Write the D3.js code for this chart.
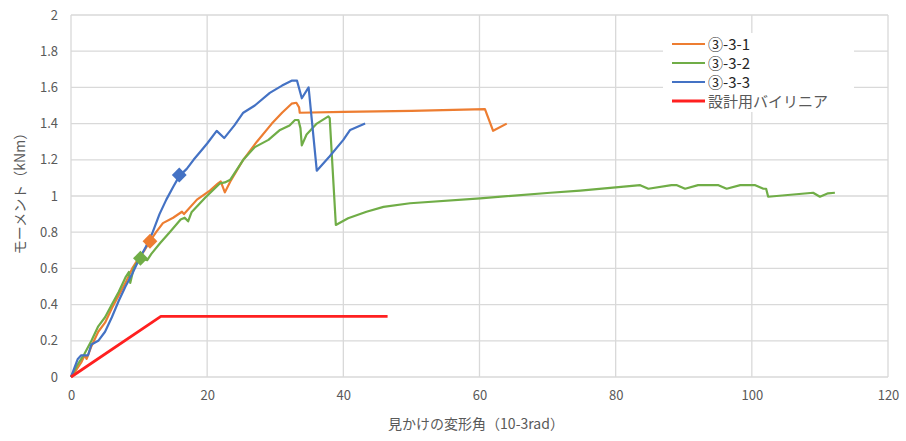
<!DOCTYPE html>
<html>
<head>
<meta charset="utf-8">
<script src="https://cdn.jsdelivr.net/npm/d3@7"></script>
<style>
  html, body { margin: 0; padding: 0; background: #fff; }
  svg { display: block; font-family: "Noto Sans CJK JP", "Noto Sans", sans-serif; }
</style>
</head>
<body>
<svg id="chart" width="906" height="441"></svg>
<script>
// Moment vs. apparent deformation angle for specimens ③-3-1 .. ③-3-3
const xTicks = [0, 20, 40, 60, 80, 100, 120];
const yTicks = [0, 0.2, 0.4, 0.6, 0.8, 1, 1.2, 1.4, 1.6, 1.8, 2];

const seriesNames = ["③-3-1", "③-3-2", "③-3-3", "設計用バイリニア"];

const s331 = [
  [0, 0], [0.8, 0.04], [1.5, 0.08], [2, 0.12], [2.3, 0.1], [3, 0.17], [4, 0.25],
  [5, 0.3], [6, 0.38], [7, 0.45], [8, 0.52], [9, 0.6], [10, 0.66], [10.8, 0.7],
  [11.6, 0.75], [12.5, 0.8], [13.5, 0.85], [15, 0.88], [16.3, 0.913], [16.6, 0.9],
  [18.5, 0.98], [20.4, 1.03], [21.6, 1.07], [22, 1.08], [22.6, 1.02], [23.4, 1.08],
  [25.3, 1.2], [27.3, 1.3], [29.5, 1.4], [31, 1.46], [32.4, 1.51], [33.1, 1.515],
  [33.5, 1.49], [33.6, 1.46], [40, 1.465], [50, 1.47], [60.8, 1.48], [62, 1.36], [64, 1.4]
];

const s332 = [
  [0, 0], [1, 0.07], [2, 0.13], [3, 0.2], [4, 0.28], [5, 0.33], [6, 0.4], [7, 0.47],
  [8, 0.55], [8.5, 0.58], [8.7, 0.52], [9.2, 0.6], [10.1, 0.656], [11.2, 0.646],
  [11.8, 0.68], [13.1, 0.74], [14.5, 0.8], [16.1, 0.87], [16.7, 0.88], [17.2, 0.86],
  [17.7, 0.91], [19.7, 0.99], [21.9, 1.07], [22.6, 1.075], [23.4, 1.09], [25.3, 1.2],
  [27, 1.27], [29, 1.31], [30.7, 1.365], [32.1, 1.39], [32.9, 1.42], [33.4, 1.42],
  [33.7, 1.375], [33.9, 1.28], [34.6, 1.34], [36.1, 1.4], [37.8, 1.44], [38, 1.43],
  [38.9, 0.84], [40.7, 0.877], [43.4, 0.913], [45.9, 0.94], [49.8, 0.96], [60.1, 0.987],
  [70.4, 1.018], [74.8, 1.03], [83.6, 1.06], [84.8, 1.04], [88.2, 1.06], [89, 1.06],
  [90.2, 1.04], [92.1, 1.06], [95.1, 1.06], [96.3, 1.04], [98.3, 1.06], [100.5, 1.06],
  [101.7, 1.04], [102.1, 1.04], [102.4, 0.996], [109, 1.018], [110, 0.996],
  [111.2, 1.015], [112.2, 1.018]
];

const s333 = [
  [0, 0], [0.5, 0.05], [1, 0.1], [1.5, 0.12], [2.5, 0.12], [3, 0.18], [4, 0.2],
  [5, 0.25], [6, 0.33], [7, 0.42], [8, 0.5], [9, 0.57], [10, 0.65], [11, 0.72],
  [12, 0.8], [13, 0.9], [14, 0.98], [15, 1.05], [15.9, 1.11], [17, 1.15], [18, 1.2],
  [18.9, 1.24], [20, 1.29], [21.4, 1.36], [22.5, 1.32], [24, 1.39], [25.3, 1.46],
  [27, 1.5], [29.2, 1.57], [31, 1.61], [32.4, 1.637], [33.2, 1.637], [33.9, 1.54],
  [34.9, 1.6], [36.1, 1.14], [38, 1.22], [40, 1.31], [41, 1.365], [43.2, 1.4]
];

const bilinear = [[0, 0], [13.2, 0.335], [46.5, 0.335]];

// Highlighted points on each test curve
const markers331 = [[11.6, 0.75]];
const markers332 = [[10.2, 0.656]];
const markers333 = [[15.9, 1.116]];

const colors = ["#ED7D31", "#70AD47", "#4472C4", "#FF2020"];

const svg = d3.select("#chart");
const margin = { left: 71, right: 18, top: 15, bottom: 64 };
const W = 906, H = 441;

const x = d3.scaleLinear().domain([0, 120]).range([margin.left, W - margin.right]);
const y = d3.scaleLinear().domain([0, 2]).range([H - margin.bottom, margin.top]);

// grid
const grid = svg.append("g");
grid.selectAll("line.h").data(yTicks).join("line")
  .attr("x1", x(0)).attr("x2", x(120))
  .attr("y1", d => y(d)).attr("y2", d => y(d))
  .attr("stroke", "#d9d9d9").attr("stroke-width", 1.3);
grid.selectAll("line.v").data(xTicks).join("line")
  .attr("y1", y(0)).attr("y2", y(2))
  .attr("x1", d => x(d)).attr("x2", d => x(d))
  .attr("stroke", "#d9d9d9").attr("stroke-width", 1.3);

// axes (labels only)
const xAxis = svg.append("g").attr("transform", `translate(0,${y(0)})`)
  .call(d3.axisBottom(x).tickValues(xTicks).tickSize(0).tickPadding(14).tickFormat(d3.format("d")));
const yAxis = svg.append("g").attr("transform", `translate(${x(0)},0)`)
  .call(d3.axisLeft(y).tickValues(yTicks).tickSize(0).tickPadding(13).tickFormat(d => String(+d.toFixed(1))));
[xAxis, yAxis].forEach(a => {
  a.select(".domain").remove();
  a.selectAll("text").attr("fill", "#595959").style("font-size", "13px")
    .style("font-family", "'Noto Sans CJK JP', sans-serif");
});

// axis titles
svg.append("text").attr("x", 476).attr("y", 429).attr("text-anchor", "middle")
  .attr("fill", "#595959").style("font-size", "14px").text("見かけの変形角（10-3rad）");
svg.append("text").attr("transform", "translate(25,190) rotate(-90)").attr("text-anchor", "middle")
  .attr("fill", "#595959").style("font-size", "14px").text("モーメント（kNm）");

// series
const line = d3.line().x(d => x(d[0])).y(d => y(d[1]));
const allSeries = [s331, s332, s333, bilinear];
const widths = [2.2, 2.2, 2.2, 2.8];
allSeries.forEach((s, i) => {
  svg.append("path").datum(s).attr("d", line)
    .attr("fill", "none").attr("stroke", colors[i]).attr("stroke-width", widths[i])
    .attr("stroke-linejoin", "round");
});

// diamond markers
const diamond = d3.symbol().type(d3.symbolSquare).size(110);
[markers331, markers332, markers333].forEach((m, i) => {
  svg.append("g").selectAll("path").data(m).join("path")
    .attr("d", diamond)
    .attr("transform", d => `translate(${x(d[0])},${y(d[1])}) rotate(45)`)
    .attr("fill", colors[i]);
});

// legend
const lg = svg.append("g");
lg.append("rect").attr("x", 663).attr("y", 33).attr("width", 191).attr("height", 79).attr("fill", "#fff");
seriesNames.forEach((name, i) => {
  const yy = 44 + i * 19;
  lg.append("line").attr("x1", 672).attr("x2", 705).attr("y1", yy).attr("y2", yy)
    .attr("stroke", colors[i]).attr("stroke-width", i === 3 ? 2.8 : 2.2);
  lg.append("text").attr("x", 708).attr("y", yy + 5.5)
    .attr("fill", i === 3 ? "#595959" : "#262626").style("font-size", "15px").text(name);
});
</script>
</body>
</html>
